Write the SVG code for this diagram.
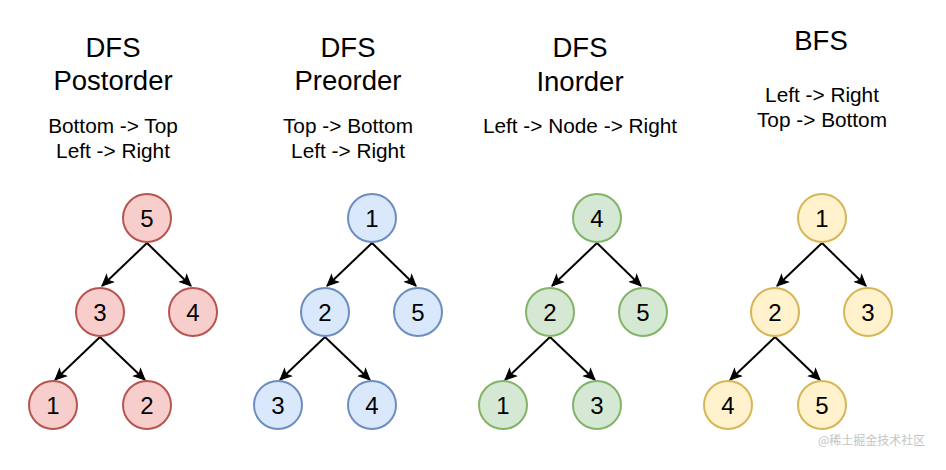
<svg xmlns="http://www.w3.org/2000/svg" width="946" height="470" viewBox="0 0 946 470">
<style>
text{font-family:"Liberation Sans",Arial,Helvetica,sans-serif;fill:#000;text-anchor:middle}
.t{font-size:27.5px}
.s{font-size:20.8px}
.n{font-size:24px}
.e{stroke:#000;stroke-width:2;fill:none;marker-end:url(#ah)}
.red circle{fill:#f8cecc;stroke:#b85450;stroke-width:2}
.blue circle{fill:#dae8fc;stroke:#6c8ebf;stroke-width:2}
.green circle{fill:#d5e8d4;stroke:#82b366;stroke-width:2}
.yellow circle{fill:#fff2cc;stroke:#d6b656;stroke-width:2}
.wm{font-family:"Noto Sans CJK SC",sans-serif;font-size:12px;fill:#c4c4c4;text-anchor:start}
</style>
<defs>
<marker id="ah" markerUnits="userSpaceOnUse" markerWidth="13" markerHeight="13" viewBox="0 0 13 13" refX="12" refY="6.5" orient="auto">
<path d="M1,1.5 L12,6.5 L1,11.5 L3.8,6.5 Z" fill="#000" stroke="#000" stroke-width="1"/>
</marker>
</defs>
<rect width="946" height="470" fill="#fff"/>

<g id="titles">
<text class="t" x="113" y="57">DFS</text>
<text class="t" x="113" y="90">Postorder</text>
<text class="s" x="113" y="133">Bottom -&gt; Top</text>
<text class="s" x="113" y="158">Left -&gt; Right</text>
<text class="t" x="348" y="57">DFS</text>
<text class="t" x="348" y="90">Preorder</text>
<text class="s" x="348" y="133">Top -&gt; Bottom</text>
<text class="s" x="348" y="158">Left -&gt; Right</text>
<text class="t" x="580" y="57">DFS</text>
<text class="t" x="580" y="91">Inorder</text>
<text class="s" x="580" y="133">Left -&gt; Node -&gt; Right</text>
<text class="t" x="821" y="50">BFS</text>
<text class="s" x="822" y="102">Left -&gt; Right</text>
<text class="s" x="822" y="127">Top -&gt; Bottom</text>
</g>

<g id="connectors">
<line class="e" x1="147" y1="243" x2="102" y2="286"/>
<line class="e" x1="147" y1="243" x2="191" y2="286"/>
<line class="e" x1="100" y1="337" x2="55" y2="380"/>
<line class="e" x1="100" y1="337" x2="145" y2="380"/>
<line class="e" x1="372" y1="243" x2="327" y2="286"/>
<line class="e" x1="372" y1="243" x2="416" y2="286"/>
<line class="e" x1="325" y1="337" x2="280" y2="380"/>
<line class="e" x1="325" y1="337" x2="370" y2="380"/>
<line class="e" x1="597" y1="243" x2="552" y2="286"/>
<line class="e" x1="597" y1="243" x2="641" y2="286"/>
<line class="e" x1="550" y1="337" x2="505" y2="380"/>
<line class="e" x1="550" y1="337" x2="595" y2="380"/>
<line class="e" x1="822" y1="243" x2="777" y2="286"/>
<line class="e" x1="822" y1="243" x2="866" y2="286"/>
<line class="e" x1="775" y1="337" x2="730" y2="380"/>
<line class="e" x1="775" y1="337" x2="820" y2="380"/>
</g>

<g class="red">
<g id="post5"><circle cx="147" cy="218" r="24"/><text class="n" x="147" y="227">5</text></g>
<g id="post3"><circle cx="100" cy="312" r="24"/><text class="n" x="100" y="321">3</text></g>
<g id="post4"><circle cx="193" cy="312" r="24"/><text class="n" x="193" y="321">4</text></g>
<g id="post1"><circle cx="53" cy="405" r="24"/><text class="n" x="53" y="414">1</text></g>
<g id="post2"><circle cx="147" cy="405" r="24"/><text class="n" x="147" y="414">2</text></g>
</g>
<g class="blue">
<g id="pre1"><circle cx="372" cy="218" r="24"/><text class="n" x="372" y="227">1</text></g>
<g id="pre2"><circle cx="325" cy="312" r="24"/><text class="n" x="325" y="321">2</text></g>
<g id="pre5"><circle cx="418" cy="312" r="24"/><text class="n" x="418" y="321">5</text></g>
<g id="pre3"><circle cx="278" cy="405" r="24"/><text class="n" x="278" y="414">3</text></g>
<g id="pre4"><circle cx="372" cy="405" r="24"/><text class="n" x="372" y="414">4</text></g>
</g>
<g class="green">
<g id="in4"><circle cx="597" cy="218" r="24"/><text class="n" x="597" y="227">4</text></g>
<g id="in2"><circle cx="550" cy="312" r="24"/><text class="n" x="550" y="321">2</text></g>
<g id="in5"><circle cx="643" cy="312" r="24"/><text class="n" x="643" y="321">5</text></g>
<g id="in1"><circle cx="503" cy="405" r="24"/><text class="n" x="503" y="414">1</text></g>
<g id="in3"><circle cx="597" cy="405" r="24"/><text class="n" x="597" y="414">3</text></g>
</g>
<g class="yellow">
<g id="bfs1"><circle cx="822" cy="218" r="24"/><text class="n" x="822" y="227">1</text></g>
<g id="bfs2"><circle cx="775" cy="312" r="24"/><text class="n" x="775" y="321">2</text></g>
<g id="bfs3"><circle cx="868" cy="312" r="24"/><text class="n" x="868" y="321">3</text></g>
<g id="bfs4"><circle cx="728" cy="405" r="24"/><text class="n" x="728" y="414">4</text></g>
<g id="bfs5"><circle cx="822" cy="405" r="24"/><text class="n" x="822" y="414">5</text></g>
</g>
<text class="wm" x="818" y="445">@稀土掘金技术社区</text>
</svg>
